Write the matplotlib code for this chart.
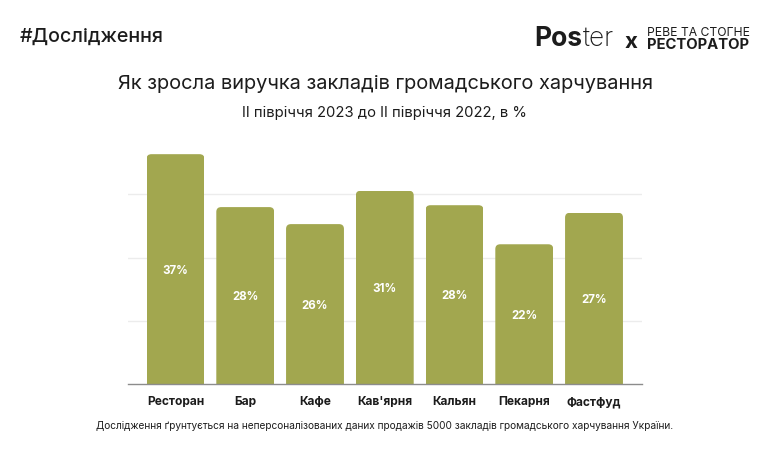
import matplotlib
matplotlib.use('Agg')
import matplotlib.pyplot as plt
from matplotlib.patches import FancyBboxPatch

categories = ['Ресторан', 'Бар', 'Кафе', "Кав'ярня", 'Кальян', 'Пекарня', 'Фастфуд']
heights = [36.4, 28.0, 25.3, 30.6, 28.3, 22.1, 27.1]
labels = ['37%', '28%', '26%', '31%', '28%', '22%', '27%']
grid_values = [10, 20, 30]

W, H = 780, 456
GREEN = '#a2a74f'
DARK = '#1c1c1c'

plt.rcParams['font.family'] = 'Inter'

fig = plt.figure(figsize=(W / 100, H / 100), dpi=100, facecolor='white')


def top_text(x, y, s, **kw):
    # position in pixels of the 780x456 picture, y going down
    kw.setdefault('color', DARK)
    kw.setdefault('va', 'center')
    return fig.text(x / W, 1 - y / H, s, **kw)


# axes box: x 128..642, baseline at y=384.5, 6.3 px per unit
ax_top = 384.5 - 40 * 6.3
ax = fig.add_axes([128 / W, 1 - 384.5 / H, (642 - 128) / W, (384.5 - ax_top) / H])
ax.set_xlim(-0.681, 6.688)
ax.set_ylim(0, 40)
ax.set_facecolor('none')

for g in grid_values:
    ax.axhline(g, color='#ececec', lw=1, zorder=1)

xs = list(range(len(categories)))
bars = ax.bar(xs, heights, width=0.83, color=GREEN, zorder=2)

# rounded top corners, bottom corners fall below the axes and get cut off
for bar in bars:
    r_x = 0.07
    r_y = 0.75
    box = FancyBboxPatch((bar.get_x() + r_x, -5), bar.get_width() - 2 * r_x,
                         bar.get_height() + 5 - r_y,
                         boxstyle=f'round,pad={r_x},rounding_size={r_x}',
                         mutation_aspect=r_y / r_x,
                         transform=ax.transData)
    bar.set_clip_path(box)

for x, h, lab in zip(xs, heights, labels):
    ax.text(x, h / 2 - 0.15, lab, color='white', ha='center', va='center',
            fontsize=8.3, fontweight='bold', zorder=3)

for side in ['top', 'right', 'left']:
    ax.spines[side].set_visible(False)
ax.spines['bottom'].set_color('#8c8c8c')
ax.spines['bottom'].set_linewidth(1)
ax.set_yticks([])
ax.set_xticks(xs)
ax.set_xticklabels(categories, fontsize=8.6, fontweight='bold', color=DARK, va='baseline')
# baseline alignment so the descender of Ф doesn't push Фастфуд down
ax.tick_params(axis='x', length=0, pad=15)

top_text(20, 37, '#Дослідження', fontsize=14.2, fontweight='medium')
top_text(385, 84, 'Як зросла виручка закладів громадського харчування', ha='center', fontsize=14.4)
top_text(384.5, 113, 'ІІ півріччя 2023 до ІІ півріччя 2022, в %', ha='center', fontsize=10.7)
top_text(385, 426, 'Дослідження ґрунтується на неперсоналізованих даних продажів 5000 закладів громадського харчування України.',
         ha='center', fontsize=7.27)

# logos
top_text(534, 39, 'Pos', fontsize=19, fontweight='bold')
top_text(583, 39, 'ter', fontsize=19, fontweight='light')
top_text(631, 42, 'x', ha='center', fontsize=16, fontweight='bold')
top_text(647, 32.5, 'РЕВЕ ТА СТОГНЕ', fontsize=8.75)
top_text(647, 45, 'РЕСТОРАТОР', fontsize=10.7, fontweight='bold')

fig.savefig('out.png', dpi=100)
